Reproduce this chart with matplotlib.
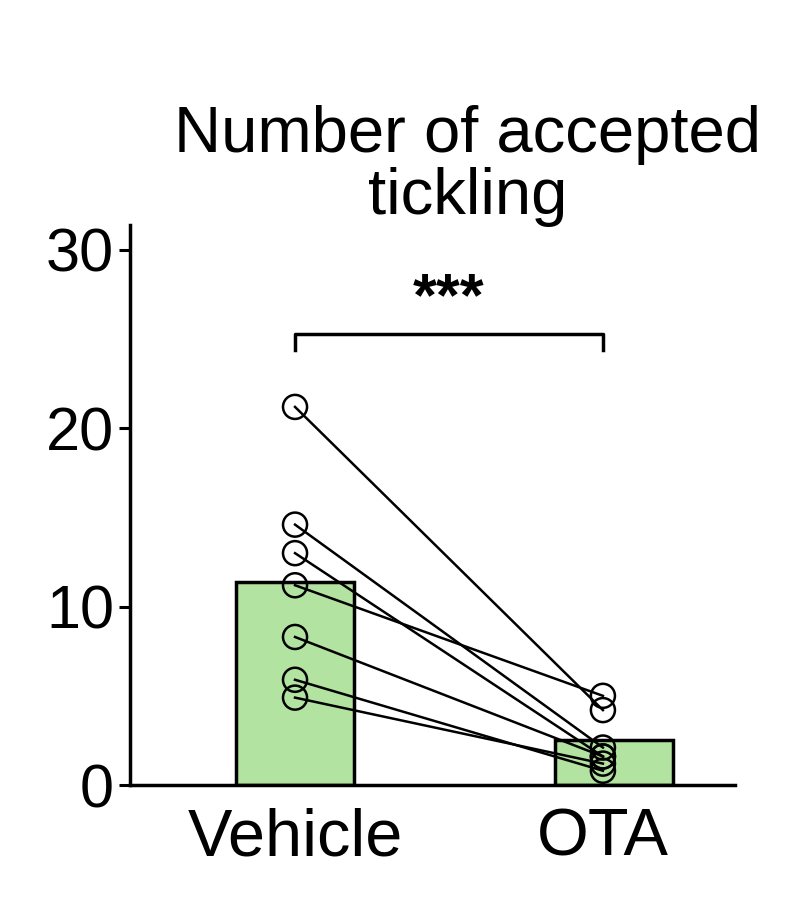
import matplotlib
matplotlib.use("Agg")
import matplotlib.pyplot as plt

groups = ["Vehicle", "OTA"]
bar_means = [11.4, 2.5]
vehicle_vals = [21.2, 14.6, 13.0, 11.2, 8.3, 5.9, 4.9]
ota_vals = [4.2, 2.1, 1.6, 5.0, 1.6, 0.8, 1.2]

plt.rcParams['font.family'] = ['Liberation Sans', 'DejaVu Sans']

fig = plt.figure(figsize=(8.07, 8.98), dpi=100)
ax = fig.add_axes([130 / 807, 1 - 785 / 898, 605 / 807, 560 / 898])

x = [0, 1]
ax.bar([0, 1.035], bar_means, width=0.383, color='#b3e3a0', edgecolor='black', linewidth=2.5, zorder=1)
for v, o in zip(vehicle_vals, ota_vals):
    ax.plot(x, [v, o], color='black', linewidth=1.8, zorder=2)
ax.scatter([0] * len(vehicle_vals), vehicle_vals, s=300, facecolors='none',
           edgecolors='black', linewidths=1.8, zorder=3)
ax.scatter([1] * len(ota_vals), ota_vals, s=300, facecolors='none',
           edgecolors='black', linewidths=1.8, zorder=3)

# significance bracket
ax.plot([0, 0, 1, 1], [24.4, 25.3, 25.3, 24.4], color='black', linewidth=2.5, clip_on=False)
ax.text(0.5, 25.6, '***', ha='center', va='bottom', fontsize=44, fontweight='bold')

ax.set_xlim(-0.536, 1.429)
ax.set_ylim(0, 31.4)
ax.set_yticks([0, 10, 20, 30])
ax.set_xticks(x)
ax.set_xticklabels(groups)
ax.tick_params(axis='y', labelsize=44, width=2.2, length=8)
ax.tick_params(axis='x', labelsize=48, length=0, pad=16)
for s in ['top', 'right']:
    ax.spines[s].set_visible(False)
for s in ['left', 'bottom']:
    ax.spines[s].set_linewidth(2.5)

fig.text(468 / 807, 1 - 166 / 898, 'Number of accepted\ntickling', ha='center', va='center',
         fontsize=47, linespacing=1.05)

fig.savefig('out.png', dpi=100)
